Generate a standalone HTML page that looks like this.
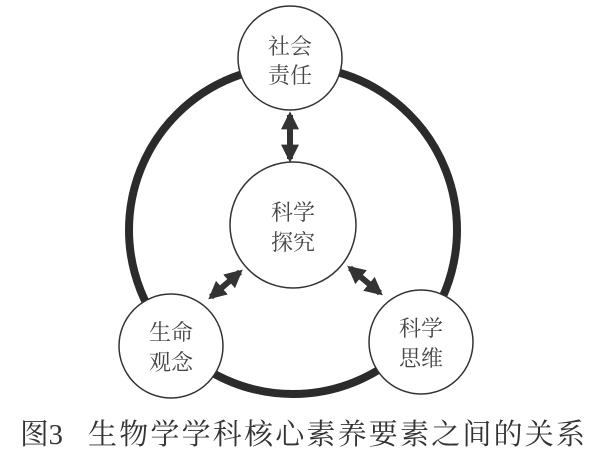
<!DOCTYPE html>
<html><head><meta charset="utf-8"><style>
html,body{margin:0;padding:0;background:#fff;width:600px;height:458px;overflow:hidden}
svg text{font-family:"Liberation Serif","Noto Serif CJK SC","Noto Sans CJK SC",serif;fill:#444}
</style></head><body>
<svg width="600" height="458" viewBox="0 0 600 458" xmlns="http://www.w3.org/2000/svg">
<defs>
<marker id="ah" viewBox="0 0 10 10" refX="8" refY="5" markerWidth="3" markerHeight="3" orient="auto-start-reverse" markerUnits="strokeWidth">
<path d="M0,0 L10,5 L0,10 z" fill="#333"/></marker>
</defs>
<circle cx="293" cy="230" r="164" fill="none" stroke="#2b2b2b" stroke-width="8"/>
<g fill="#fff" stroke="#333" stroke-width="1.5">
<circle cx="290" cy="58" r="52"/>
<circle cx="293" cy="225" r="63"/>
<circle cx="171" cy="346" r="52"/>
<circle cx="421" cy="342" r="52"/>
</g>
<g stroke="#333" stroke-width="6" marker-start="url(#ah)" marker-end="url(#ah)">
<line x1="290" y1="115" x2="290" y2="159"/>
<line x1="240" y1="272" x2="211" y2="297"/>
<line x1="350" y1="268" x2="380" y2="293"/>
</g>
<g font-size="22" text-anchor="middle">
<text x="290" y="54">社会</text><text x="290" y="83">责任</text>
<text x="293" y="220">科学</text><text x="293" y="250">探究</text>
<text x="171" y="340">生命</text><text x="171" y="370">观念</text>
<text x="421" y="336">科学</text><text x="421" y="366">思维</text>
</g>
<text x="20" y="444" font-size="29" textLength="43" lengthAdjust="spacingAndGlyphs" style="fill:#333">图3</text>
<text x="88" y="444" font-size="29" textLength="497" lengthAdjust="spacing" style="fill:#333">生物学学科核心素养要素之间的关系</text>
</svg>
</body></html>
